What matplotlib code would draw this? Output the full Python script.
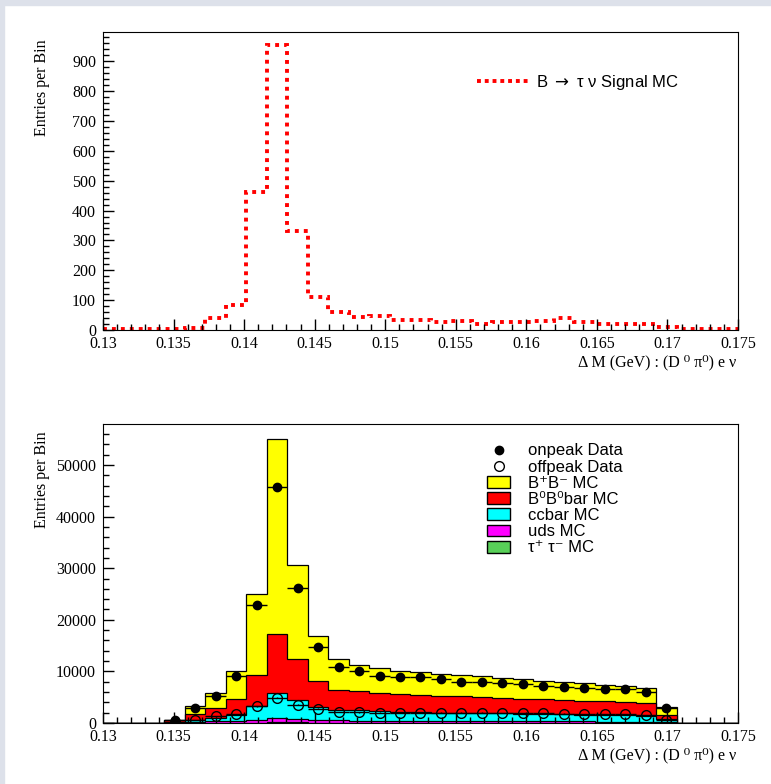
import numpy as np
import matplotlib
matplotlib.use('Agg')
import matplotlib.pyplot as plt
from matplotlib.patches import Rectangle, Patch
from matplotlib.lines import Line2D
from matplotlib.ticker import MultipleLocator, FuncFormatter

plt.rcParams['font.family'] = ['Liberation Serif', 'DejaVu Serif']
plt.rcParams['font.size'] = 11.5
plt.rcParams['mathtext.fontset'] = 'dejavusans'

# binning of delta M (GeV)
x_lo, x_hi, n_bins = 0.13, 0.175, 31

# top panel: B -> tau nu signal MC
signal_mc = [2, 2, 2, 4, 8, 39, 84, 462, 954, 330, 112, 61, 44, 46, 33, 32,
             28, 30, 21, 27, 28, 29, 39, 27, 21, 21, 21, 10, 2, 2, 2]

# bottom panel: background MC samples (stacked, bottom to top)
tautau_mc = [0, 0, 0, 10, 30, 50, 60, 80, 120, 100, 80, 70, 70, 70, 70, 70,
             70, 70, 70, 70, 70, 70, 70, 70, 70, 70, 70, 40, 0, 0, 0]
uds_mc = [0, 0, 0, 70, 170, 270, 390, 500, 915, 680, 480, 430, 400, 380, 360, 340,
          320, 310, 300, 280, 270, 260, 240, 230, 220, 210, 190, 110, 0, 0, 0]
ccbar_mc = [0, 0, 0, 120, 450, 715, 1040, 2650, 4785, 3620, 2540, 2090, 1990, 1810, 1700, 1660,
            1615, 1570, 1530, 1500, 1450, 1410, 1370, 1320, 1270, 1220, 1160, 690, 0, 0, 0]
b0b0_mc = [0, 0, 0, 300, 1030, 1940, 3230, 6020, 11510, 8080, 5050, 3880, 3685, 3630, 3430, 3430,
           3295, 3225, 3145, 3065, 2930, 2850, 2780, 2710, 2640, 2500, 2460, 780, 0, 0, 0]
bpbm_mc = [0, 0, 0, 150, 1550, 2915, 5305, 15720, 37710, 18110, 8670, 5950, 5175, 4780, 4590, 4350,
           4270, 4135, 4015, 3885, 3820, 3620, 3500, 3370, 3240, 3180, 2980, 1480, 0, 0, 0]

onpeak = [0, 0, 0, 650, 2900, 5300, 9120, 22960, 45800, 26130, 14810, 10930, 10090, 9180, 8990, 8860,
          8540, 8020, 8020, 7760, 7630, 7180, 7050, 6860, 6660, 6660, 6020, 2850, 0, 0, 0]
offpeak = [0, 0, 0, 100, 520, 1290, 1750, 3230, 4920, 3560, 2780, 2130, 2070, 2005, 1940, 2005,
           2005, 2005, 2005, 1940, 1940, 1880, 1810, 1750, 1680, 1680, 1490, 650, 0, 0, 0]

stack_names = ['tautau', 'uds', 'ccbar', 'b0b0', 'bpbm']
stack_colors = ['#58d058', '#ff00ff', '#00ffff', '#ff0000', '#ffff00']
legend_labels = ['onpeak Data', 'offpeak Data', 'B\u207aB\u207b MC', 'B\u2070B\u2070bar MC',
                 'ccbar MC', 'uds MC', '\u03c4\u207a \u03c4\u207b MC']

edges = np.linspace(x_lo, x_hi, n_bins + 1)
centers = 0.5 * (edges[:-1] + edges[1:])
half_w = 0.5 * (edges[1] - edges[0])

sans = {'family': ['Liberation Sans', 'DejaVu Sans'], 'size': 12}
serif_lab = ['Liberation Serif', 'DejaVu Serif']

fig = plt.figure(figsize=(7.71, 7.84), dpi=100)
fig.patches.append(Rectangle((0, 1 - 5 / 784), 1, 5 / 784, transform=fig.transFigure,
                             color='#dde1ea', zorder=0))
fig.patches.append(Rectangle((0, 0), 4 / 771, 1, transform=fig.transFigure,
                             color='#dde1ea', zorder=0))

ax1 = fig.add_axes([103 / 771, 1 - 330 / 784, 635 / 771, 298 / 784])
ax2 = fig.add_axes([103 / 771, 1 - 723 / 784, 635 / 771, 299 / 784])

fmt = FuncFormatter(lambda v, p: '%g' % round(v, 6))


def style_axis(ax, ymax, ymajor, yminor):
    ax.set_xlim(x_lo, x_hi)
    ax.set_ylim(0, ymax)
    ax.xaxis.set_major_locator(MultipleLocator(0.005))
    ax.xaxis.set_minor_locator(MultipleLocator(0.001))
    ax.yaxis.set_major_locator(MultipleLocator(ymajor))
    ax.yaxis.set_minor_locator(MultipleLocator(yminor))
    ax.xaxis.set_major_formatter(fmt)
    ax.yaxis.set_major_formatter(fmt)
    ax.tick_params(which='both', direction='in', top=False, right=False, labelsize=11.5)
    ax.tick_params(which='major', length=8, width=1)
    ax.tick_params(which='minor', length=4, width=1)
    ax.tick_params(axis='x', pad=4)
    ax.tick_params(axis='y', pad=5)
    ax.text(0.998, -0.11, 'Δ M (GeV) : (D \u2070 π\u2070) e ν', transform=ax.transAxes,
            ha='right', va='center', fontsize=11.5, family=serif_lab)
    ax.text(-0.096, 0.975, 'Entries per Bin', transform=ax.transAxes, rotation=90,
            ha='center', va='top', fontsize=11.5)


# top panel
ax1.stairs(signal_mc, edges, baseline=None, color='red', lw=2.8,
           linestyle=(0, (1, 1.3)))
style_axis(ax1, 998, 100, 20)
h_sig = Line2D([], [], color='red', lw=2.8, linestyle=(0, (1, 1.0)))
ax1.legend([h_sig], ['B $\\rightarrow$ \u03c4 \u03bd Signal MC'], loc='center left',
           bbox_to_anchor=(0.589, 0.832), frameon=False, prop=sans,
           handlelength=3.06, handletextpad=0.48, borderpad=0, borderaxespad=0)

# bottom panel
samples = np.array([tautau_mc, uds_mc, ccbar_mc, b0b0_mc, bpbm_mc], dtype=float)
tops = np.cumsum(samples, axis=0)
for i in reversed(range(len(stack_names))):
    ax2.stairs(tops[i], edges, fill=True, facecolor=stack_colors[i],
               edgecolor='black', lw=0.9)

on = np.array(onpeak, dtype=float)
off = np.array(offpeak, dtype=float)
m_on = on > 0
m_off = off > 0
ax2.errorbar(centers[m_off], off[m_off], xerr=half_w, yerr=np.sqrt(off[m_off]),
             fmt='o', ms=7, mfc='none', mec='black', mew=1, ecolor='black',
             elinewidth=1, capsize=0, zorder=5)
ax2.errorbar(centers[m_on], on[m_on], xerr=half_w, yerr=np.sqrt(on[m_on]),
             fmt='o', ms=6, color='black', ecolor='black',
             elinewidth=1, capsize=0, zorder=6)
style_axis(ax2, 57950, 10000, 2000)

handles = [Line2D([], [], marker='o', ls='none', color='black', ms=6),
           Line2D([], [], marker='o', ls='none', mfc='none', mec='black', ms=7)]
for c in reversed(stack_colors):
    handles.append(Patch(facecolor=c, edgecolor='black', lw=1))
ax2.legend(handles, legend_labels, loc='center left', bbox_to_anchor=(0.605, 0.7475),
           frameon=False, prop=sans, handlelength=1.38, handleheight=0.72,
           handletextpad=1.08, labelspacing=0.07, borderpad=0, borderaxespad=0)

fig.savefig('out.png', dpi=100)
